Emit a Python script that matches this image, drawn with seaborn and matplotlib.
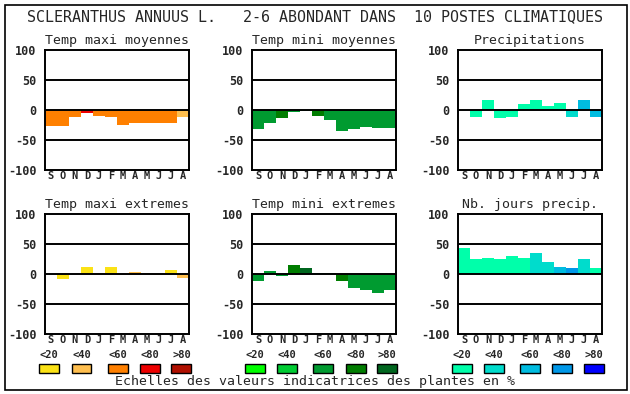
import numpy as np
import matplotlib
matplotlib.use("Agg")
import matplotlib.pyplot as plt
from matplotlib.patches import Rectangle
import seaborn as sns

W, H = 630, 394

months = ["S", "O", "N", "D", "J", "F", "M", "A", "M", "J", "J", "A"]
scale_labels = ["<20", "<40", "<60", "<80", ">80"]

# colour scales (classes 0..4)
temp_max_colors = ["#fbe216", "#ffbf4f", "#ff8000", "#ee0000", "#b01000"]
temp_min_colors = ["#00ff00", "#00cc33", "#009b30", "#007d00", "#00661f"]
precip_colors = ["#00ffaa", "#00dccc", "#00bce0", "#0098e8", "#0000ff"]

# values, with colour class per month
maxi_moy = [-26, -27, -12, -5, -10, -12, -25, -21, -21, -21, -22, -12]
maxi_moy_cls = [2, 2, 2, 3, 2, 2, 2, 2, 2, 2, 2, 1]

mini_moy = [-32, -22, -14, -4, -2, -10, -16, -35, -31, -28, -30, -30]
mini_moy_cls = [2, 2, 3, 2, 2, 3, 2, 2, 2, 2, 2, 2]

precip = [0, -12, 17, -14, -11, 10, 17, 7, 12, -12, 17, -11]
precip_cls = [0, 0, 0, 0, 0, 0, 0, 0, 0, 1, 2, 2]

maxi_ext = [0, -8, 0, 11, 2, 12, -2, 4, 2, -2, 7, -6]
maxi_ext_cls = [0, 0, 0, 0, 1, 0, 1, 1, 1, 1, 0, 1]

mini_ext = [-11, 5, -4, 15, 10, 2, 2, -12, -24, -27, -31, -27]
mini_ext_cls = [2, 2, 2, 3, 4, 2, 2, 3, 2, 2, 2, 2]

nb_jours = [44, 25, 27, 25, 30, 27, 35, 20, 12, 10, 25, 10]
nb_jours_cls = [0, 0, 0, 0, 0, 0, 1, 1, 2, 3, 1, 0]

panels = [
    ("Temp maxi moyennes", maxi_moy, maxi_moy_cls, temp_max_colors),
    ("Temp mini moyennes", mini_moy, mini_moy_cls, temp_min_colors),
    ("Precipitations", precip, precip_cls, precip_colors),
    ("Temp maxi extremes", maxi_ext, maxi_ext_cls, temp_max_colors),
    ("Temp mini extremes", mini_ext, mini_ext_cls, temp_min_colors),
    ("Nb. jours precip.", nb_jours, nb_jours_cls, precip_colors),
]

sns.set_style("white")
plt.rcParams["font.family"] = ["DejaVu Sans Mono"]

fig = plt.figure(figsize=(W / 100, H / 100), dpi=100)


def fx(x):
    return x / W


def fy(y):
    return 1 - y / H


col_x = [45, 252, 458]
row_y = [50, 214]
aw, ah = 144, 120

for i, (title, vals, cls, cols) in enumerate(panels):
    r, c = divmod(i, 3)
    x0, y0 = col_x[c], row_y[r]
    ax = fig.add_axes([fx(x0), fy(y0 + ah), aw / W, ah / H])
    idx = list(range(12))
    sns.barplot(x=idx, y=vals, hue=idx, palette=[cols[k] for k in cls],
                legend=False, width=1.0, saturation=1, ax=ax,
                edgecolor="none", zorder=2)
    for yv in (-50, 0, 50):
        ax.axhline(yv, color="black", lw=1.4, zorder=3)
    ax.set_xlim(-0.5, 11.5)
    ax.set_ylim(-100, 100)
    ax.set_yticks([-100, -50, 0, 50, 100])
    ax.set_yticklabels(["-100", "-50", "0", "50", "100"],
                       fontsize=8.5, fontweight="bold")
    ax.set_xticks(idx)
    ax.set_xticklabels(months, fontsize=7.5, fontweight="bold")
    ax.tick_params(length=0, pad=1)
    ax.tick_params(axis="y", pad=6)
    ax.set_xlabel("")
    ax.set_ylabel("")
    for s in ax.spines.values():
        s.set_color("black")
        s.set_linewidth(1.4)
        s.set_visible(True)
    ax.set_title(title, fontsize=9.5, pad=4)

# legend swatches
sw_x = [
    [49, 81.5, 117.5, 149.5, 181.5],
    [255, 287, 323, 355.5, 387],
    [462, 494, 529.5, 561.5, 593.5],
]
for cols, xs in zip([temp_max_colors, temp_min_colors, precip_colors], sw_x):
    for col, lab, xc in zip(cols, scale_labels, xs):
        fig.text(fx(xc), fy(355), lab, ha="center", va="center",
                 fontsize=7.5, fontweight="bold")
        fig.patches.append(Rectangle((fx(xc - 10), fy(373)), 20 / W, 9 / H,
                                     transform=fig.transFigure, facecolor=col,
                                     edgecolor="black", lw=1))

fig.text(fx(315), fy(382), "Echelles des valeurs indicatrices des plantes en %",
         ha="center", va="center", fontsize=9.5)

fig.text(fx(315), fy(17),
         "SCLERANTHUS ANNUUS L.   2-6 ABONDANT DANS  10 POSTES CLIMATIQUES",
         ha="center", va="center", fontsize=10.8)

fig.patches.append(Rectangle((fx(4.5), fy(389.5)), 622.5 / W, 385 / H,
                             transform=fig.transFigure, facecolor="none",
                             edgecolor="black", lw=1.2))

fig.savefig("out.png", dpi=100)
